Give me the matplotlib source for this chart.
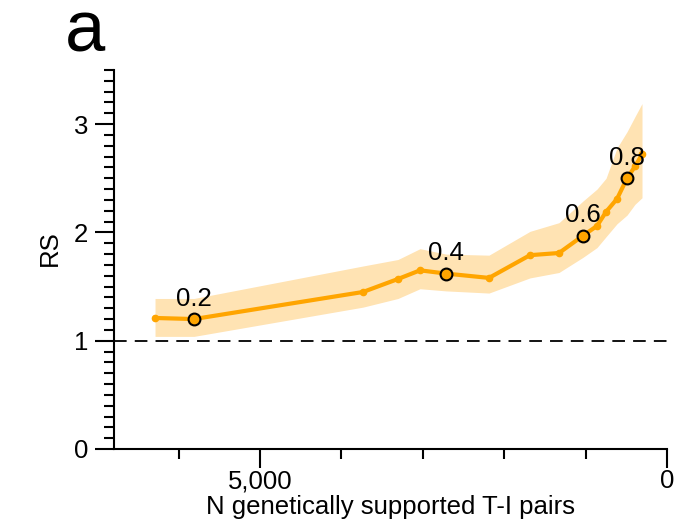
import numpy as np
import matplotlib as mpl
mpl.use('Agg')
import matplotlib.pyplot as plt
from matplotlib.ticker import FixedLocator, MultipleLocator

# data (x = number of pairs, decreasing to the right)
n_pairs = [6290, 5811, 3735, 3305, 3034, 2715, 2187, 1683, 1327, 1032, 860, 749, 614, 491, 393, 307]
rs = [1.21, 1.20, 1.45, 1.57, 1.65, 1.62, 1.58, 1.79, 1.81, 1.97, 2.06, 2.19, 2.31, 2.50, 2.61, 2.72]
rs_hi = [1.39, 1.39, 1.69, 1.75, 1.85, 1.80, 1.79, 2.01, 2.09, 2.29, 2.40, 2.50, 2.78, 2.93, 3.07, 3.19]
rs_lo = [1.04, 1.04, 1.31, 1.39, 1.48, 1.46, 1.44, 1.58, 1.63, 1.77, 1.86, 1.96, 2.08, 2.16, 2.26, 2.32]
thr_idx = [1, 5, 9, 13]
thr_labels = ['0.2', '0.4', '0.6', '0.8']

orange = '#FFA500'
band = '#FFE3B3'
fs = 18.5

mpl.rcParams['font.family'] = ['Liberation Sans', 'DejaVu Sans']
mpl.rcParams['font.size'] = fs

fig = plt.figure(figsize=(6.76, 5.25), dpi=100)
ax = fig.add_axes([114/676, 76/525, (667-114)/676, (449-70)/525])

ax.fill_between(n_pairs, rs_lo, rs_hi, color=band, lw=0, zorder=1)
ax.plot(n_pairs, rs, '-o', color=orange, lw=3, markersize=4.5, zorder=3)
ax.axhline(1, color='black', lw=1.3, dashes=(7, 4.5), zorder=2)

for i, lab in zip(thr_idx, thr_labels):
    ax.plot(n_pairs[i], rs[i], 'o', markersize=8.5, markerfacecolor=orange,
            markeredgecolor='black', markeredgewidth=1.5, zorder=4)
    ax.annotate(lab, (n_pairs[i], rs[i]), xytext=(0, 6), textcoords='offset points',
                ha='center', va='bottom', fontsize=fs)

ax.set_xlim(6794, 0)
ax.set_ylim(0, 3.5)

ax.xaxis.set_major_locator(FixedLocator([5000, 0]))
ax.set_xticklabels(['5,000', '0'])
ax.xaxis.set_minor_locator(FixedLocator([6000, 4000, 3000, 2000, 1000]))
ax.yaxis.set_major_locator(FixedLocator([0, 1, 2, 3]))
ax.yaxis.set_minor_locator(MultipleLocator(0.1))

for s in ['top', 'right']:
    ax.spines[s].set_visible(False)
for s in ['left', 'bottom']:
    ax.spines[s].set_linewidth(1.5)

ax.tick_params(axis='both', which='major', length=13.5, width=1.5, direction='out', labelsize=fs)
ax.tick_params(axis='x', which='major', pad=1)
ax.tick_params(axis='y', which='major', pad=5)
ax.tick_params(axis='both', which='minor', length=7, width=1.5, direction='out')

ax.set_xlabel('N genetically supported T-I pairs', fontsize=fs, labelpad=1)
ax.set_ylabel('RS', fontsize=fs)
ax.yaxis.set_label_coords(-0.094, 0.53)

fig.text(65/676, 1 - 52/525, 'a', fontsize=52, ha='left', va='baseline')

fig.savefig('out.png', dpi=100)
